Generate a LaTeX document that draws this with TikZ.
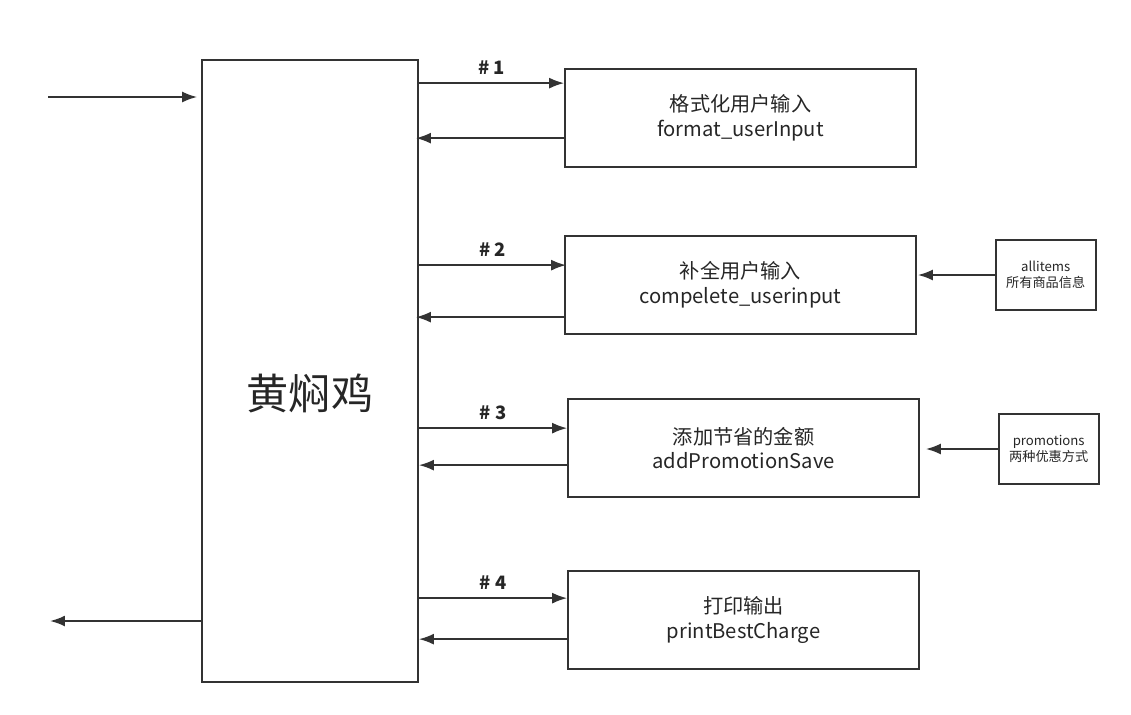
\documentclass[tikz,border=0pt]{standalone}
\usepackage{fontspec}
\setmainfont{Noto Sans CJK SC}
\usepackage{tikz}
\usetikzlibrary{positioning,arrows.meta,calc}

\begin{document}
\begin{tikzpicture}[x=0.02cm, y=-0.02cm, node distance=1.56cm,
    every node/.style={font=\fontsize{11.5}{14}\selectfont, text=black!85}]
  \tikzset{
    proc/.style={draw=black!80, line width=1pt, minimum width=7.02cm, minimum height=1.96cm, align=center},
    info/.style={draw=black!80, line width=1pt, minimum width=2cm, minimum height=1.4cm, align=center,
      font=\fontsize{7.5}{9}\selectfont},
    tag/.style={font=\bfseries\fontsize{10.5}{12}\selectfont},
    arr/.style={-{Latex[length=3mm, width=2.2mm]}, line width=1.1pt, draw=black!80}
  }
  \useasboundingbox (0,0) rectangle (1131,714);
  \node[draw=black!80, line width=1pt, minimum width=4.32cm, minimum height=12.44cm] (main) at (310,371) {};
  \node[font=\fontsize{24}{28}\selectfont] (title) at ($(main.center)+(0,22)$) {黄焖鸡};
  \node[proc] (fmt)   at (740.5,118) {格式化用户输入\\format\_userInput};
  \node[proc] (comp)  at (740.5,285) {补全用户输入\\compelete\_userinput};
  \node[proc] (promo) at (743.5,448) {添加节省的金额\\addPromotionSave};
  \node[proc] (print) at (743.5,620) {打印输出\\printBestCharge};
  \node[info, right=1.56cm of comp, yshift=0.2cm] (items) {allitems\\所有商品信息};
  \node[info, right=1.6cm of promo, yshift=-0.02cm, xshift=-0.04cm] (disc) {promotions\\两种优惠方式};
  \coordinate (src)  at (48,97);
  \coordinate (sink) at (50,621);
  % in and out
  \draw[arr] (src) -- ($(main.west |- src)+(-4,0)$);
  \draw[arr] (main.west |- sink) -- (sink);
  % calls and returns
  \draw[arr] ($(fmt.north west -| main.east)+(0,15)$) -- node[tag, above=1pt] (n1) {\# 1} ($(fmt.north west)+(0,15)$);
  \draw[arr] ($(fmt.north west)+(2,70)$) -- ($(fmt.north west -| main.east)+(-3,70)$);
  \draw[arr] ($(comp.north west -| main.east)+(0,30)$) -- node[tag, above=1pt] (n2) {\# 2} ($(comp.north west)+(2,30)$);
  \draw[arr] ($(comp.north west)+(2,82)$) -- ($(comp.north west -| main.east)+(-3,82)$);
  \draw[arr] ($(promo.north west -| main.east)+(0,30)$) -- node[tag, above=1pt] (n3) {\# 3} ($(promo.north west)+(0,30)$);
  \draw[arr] ($(promo.north west)+(0,67)$) -- ($(promo.north west -| main.east)+(0,67)$);
  \draw[arr] ($(print.north west -| main.east)+(0,28)$) -- node[tag, above=1pt] (n4) {\# 4} ($(print.north west)+(0,28)$);
  \draw[arr] ($(print.north west)+(0,69)$) -- ($(print.north west -| main.east)+(0,69)$);
  % data sources
  \draw[arr] (items.west) -- ($(comp.east |- items.west)+(1,0)$);
  \draw[arr] (disc.west) -- ($(promo.east |- disc.west)+(6,0)$);
\end{tikzpicture}
\end{document}
